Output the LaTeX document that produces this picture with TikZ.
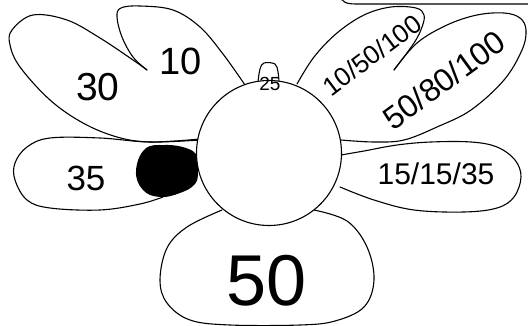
\documentclass[tikz,border=0pt]{standalone}
\usepackage{fontspec}
\setmainfont{Liberation Sans}
\begin{document}
\begin{tikzpicture}[x=1pt,y=-1pt,
  outl/.style={line width=1.1pt,line cap=round,line join=round},
  lbl/.style={inner sep=0pt,text=black}]
\useasboundingbox (0,0) rectangle (528,326);
% top-right rectangle corner
\draw[outl] (340,-4) .. controls (342,2) and (346,4) .. (356,4) -- (532,4);
% black blob
\fill[black] plot[smooth cycle,tension=0.7] coordinates {(145,149) (165,145) (186,148) (197,156) (198,171) (195,184) (180,193) (160,197) (143,190) (136,171)};
% 30 petal
\draw[outl] plot[smooth,tension=0.6] coordinates {(147,70) (133,60) (100,38) (67,20) (33,15) (12,30) (10,45) (20,67) (50,100) (83,123) (117,137) (150,142) (200,140)};
% 10 petal
\draw[outl] plot[smooth,tension=0.6] coordinates {(147,70) (133,57) (122,37) (117,17) (121,8) (140,6) (173,10) (200,27) (223,54) (245,85)};
% 35 petal
\draw[outl] plot[smooth,tension=0.6] coordinates {(200,139) (150,142) (100,138) (50,138) (27,147) (15,163) (15,180) (27,200) (50,208) (100,210) (140,204) (163,197)};
% 50 petal
\draw[outl] plot[smooth,tension=0.6] coordinates {(222,210) (187,227) (167,248) (160,280) (167,303) (190,320) (230,325) (300,325) (335,321) (364,307) (374,280) (367,247) (347,221) (314,210)};
% 15/15/35 petal
\draw[outl] plot[smooth,tension=0.6] coordinates {(341,155) (364,151) (397,145) (431,142) (471,142) (497,147) (515,160) (521,177) (514,197) (497,208) (464,212) (414,210) (374,200) (340,187)};
% 50/80/100 petal
\draw[outl] plot[smooth,tension=0.6] coordinates {(341,140) (374,142) (404,140) (437,127) (471,110) (504,80) (522,50) (526,30) (520,18) (504,13) (477,15) (447,25) (417,43) (394,70)};
% 10/50/100 petal
\draw[outl] plot[smooth,tension=0.6] coordinates {(297,84) (314,57) (337,33) (364,15) (391,7) (416,8) (424,15) (422,27) (414,43) (394,70)};
% 25 petal
\draw[outl] plot[smooth,tension=0.6] coordinates {(258,82) (260,69) (264,63) (275,64) (278,72) (279,82)};
% centre
\draw[outl,fill=white] (269,153) circle[radius=72.5];
% labels
\node[lbl,font=\fontsize{19}{19}\selectfont] (l25) at (270,84) {25};
\node[lbl,font=\fontsize{39}{39}\selectfont] (l30) at (98,87) {30};
\node[lbl,font=\fontsize{38}{38}\selectfont] (l10) at (181,61) {10};
\node[lbl,font=\fontsize{35}{35}\selectfont] (l35) at (86,178) {35};
\node[lbl,font=\fontsize{72}{72}\selectfont] (l50) at (267,281) {50};
\node[lbl,font=\fontsize{30}{30}\selectfont] (l151535) at (436,174) {15/15/35};
\node[lbl,font=\fontsize{32}{32}\selectfont,rotate=36] (l5080) at (444,80) {50/80/100};
\node[lbl,font=\fontsize{26}{26}\selectfont,rotate=37] (l1050) at (372,55) {10/50/100};
\end{tikzpicture}
\end{document}
